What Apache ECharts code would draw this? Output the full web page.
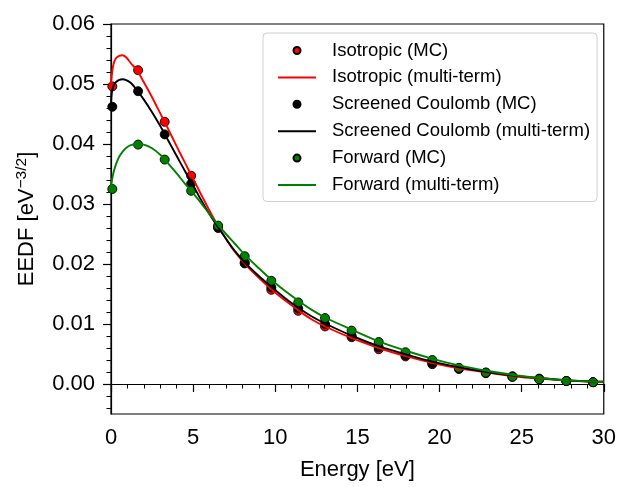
<!DOCTYPE html>
<html>
<head>
<meta charset="utf-8">
<script src="https://cdn.jsdelivr.net/npm/echarts@6/dist/echarts.min.js"></script>
<style>html,body{margin:0;padding:0;background:#fff}#c{width:619px;height:487px}</style>
</head>
<body>
<div id="c"></div>
<script>
// ---- data ----
const seriesNames = ['Isotropic (MC)', 'Isotropic (multi-term)', 'Screened Coulomb (MC)', 'Screened Coulomb (multi-term)', 'Forward (MC)', 'Forward (multi-term)'];
const mcX = [0.08, 1.65, 3.27, 4.88, 6.52, 8.14, 9.76, 11.4, 13.03, 14.65, 16.3, 17.93, 19.56, 21.18, 22.82, 24.44, 26.07, 27.72, 29.35];
const isoMC = [0.0496, 0.0523, 0.0437, 0.0347, 0.0262, 0.0201, 0.0157, 0.0122, 0.0096, 0.0078, 0.0058, 0.0046, 0.0033, 0.0025, 0.0018, 0.0012, 0.0008, 0.0005, 0.0003];
const scMC = [0.0462, 0.0488, 0.0416, 0.0334, 0.0260, 0.0202, 0.0161, 0.0126, 0.0100, 0.0080, 0.0061, 0.0048, 0.0035, 0.0026, 0.0019, 0.0013, 0.0009, 0.0005, 0.0003];
const fwdMC = [0.0325, 0.0399, 0.0374, 0.0322, 0.0264, 0.0213, 0.0172, 0.0136, 0.0110, 0.0089, 0.0070, 0.0053, 0.0040, 0.0027, 0.0019, 0.0012, 0.0008, 0.0005, 0.0003];
const lineX = [0, 0.05, 0.15, 0.3, 0.5, 0.7, 0.9, 1.2, 1.6, 2.0, 2.5, 3.0, 3.5, 4.0, 4.5, 5.0, 5.5, 6.0, 6.5, 7.0, 7.5, 8.2, 9.0, 9.8, 10.6, 11.4, 12.2, 13.1, 14.7, 16.3, 18.0, 19.6, 21.2, 22.9, 24.5, 26.1, 27.8, 29.4, 30];
const isoLine = [0.0495, 0.0515, 0.0533, 0.0543, 0.0547, 0.0548, 0.0545, 0.0535, 0.0522, 0.0503, 0.0478, 0.0451, 0.0424, 0.0396, 0.0369, 0.0342, 0.0315, 0.0289, 0.0264, 0.0242, 0.0222, 0.0199, 0.0177, 0.0157, 0.0139, 0.0123, 0.0108, 0.0095, 0.0076, 0.0060, 0.0046, 0.0035, 0.0026, 0.0019, 0.0013, 0.0009, 0.0006, 0.0004, 0.0004];
const scLine = [0.0462, 0.0485, 0.0497, 0.0503, 0.0507, 0.0508, 0.0507, 0.0502, 0.0489, 0.0474, 0.0453, 0.0430, 0.0405, 0.0380, 0.0355, 0.0331, 0.0306, 0.0283, 0.0262, 0.0242, 0.0223, 0.0201, 0.0180, 0.0161, 0.0143, 0.0127, 0.0113, 0.0100, 0.0080, 0.0063, 0.0049, 0.0037, 0.0028, 0.0020, 0.0014, 0.0010, 0.0006, 0.0004, 0.0004];
const fwdLine = [0.0325, 0.0338, 0.0352, 0.0366, 0.0379, 0.0387, 0.0393, 0.0398, 0.0400, 0.0399, 0.0393, 0.0382, 0.0367, 0.0351, 0.0334, 0.0318, 0.0301, 0.0283, 0.0266, 0.0250, 0.0235, 0.0214, 0.0193, 0.0173, 0.0155, 0.0139, 0.0124, 0.0110, 0.0090, 0.0071, 0.0055, 0.0042, 0.0031, 0.0022, 0.0015, 0.0010, 0.0006, 0.0004, 0.0003];
const yMajorTicks = [0, 0.01, 0.02, 0.03, 0.04, 0.05, 0.06];
const yMinorTicks = [-0.004, -0.002, 0.002, 0.004, 0.006, 0.008, 0.012, 0.014, 0.016, 0.018, 0.022, 0.024, 0.026, 0.028, 0.032, 0.034, 0.036, 0.038, 0.042, 0.044, 0.046, 0.048, 0.052, 0.054, 0.056, 0.058];
const colors = ['#ff0000', '#000000', '#008000'];

const FONT = 'Liberation Sans, Arial, sans-serif';
const FS = 22;      // axis / tick text
const LFS = 18.5;   // legend text
const zip = (xs, ys) => xs.map((x, i) => [x, ys[i]]);

function mcSeries(name, data, color) {
  return {
    name, type: 'scatter', data: zip(mcX, data), xAxisIndex: 0, yAxisIndex: 0,
    symbol: 'circle', symbolSize: 9,
    itemStyle: { color, borderColor: '#000', borderWidth: 0.9, opacity: 1 },
    clip: false
  };
}
function lineSeries(name, data, color) {
  return {
    name, type: 'line', data: zip(lineX, data), xAxisIndex: 0, yAxisIndex: 0,
    symbol: 'none', showSymbol: false, smooth: 0.35,
    lineStyle: { color, width: 1.9 }, itemStyle: { color }
  };
}

const legendData = seriesNames.map((n, i) => (i % 2 === 1 ? { name: n, itemStyle: { opacity: 0 } } : { name: n }));

const chart = echarts.init(document.getElementById('c'), null, { renderer: 'canvas' });
chart.setOption({
  animation: false,
  backgroundColor: '#fff',
  textStyle: { fontFamily: FONT },
  grid: { left: 111, right: 13, top: 24, bottom: 73, show: true, borderColor: '#000', borderWidth: 1.2, backgroundColor: 'transparent' },
  legend: {
    orient: 'vertical', left: 263, top: 33,
    data: legendData,
    itemWidth: 38, itemHeight: 7, itemGap: 7.9,
    padding: [8, 7, 7, 14],
    backgroundColor: 'rgba(255,255,255,0.8)', borderColor: '#d0d0d0', borderWidth: 1, borderRadius: 4,
    textStyle: { fontFamily: FONT, fontSize: LFS, color: '#000', padding: [0, 0, 0, 11], lineHeight: 18 }
  },
  xAxis: [{
    type: 'value', min: 0, max: 30, interval: 5,
    name: 'Energy [eV]', nameLocation: 'middle', nameGap: 45,
    nameTextStyle: { fontFamily: FONT, fontSize: FS, color: '#000' },
    axisLine: { show: true, lineStyle: { color: '#000', width: 1.2 } },
    axisTick: { show: true, inside: false, length: 8, lineStyle: { color: '#000', width: 1.2 } },
    minorTick: { show: true, splitNumber: 5, length: 4.5, lineStyle: { color: '#000', width: 1 } },
    axisLabel: { fontFamily: FONT, fontSize: FS, color: '#000', margin: 13 },
    splitLine: { show: false }, minorSplitLine: { show: false }
  }],
  yAxis: [{
    type: 'value', min: -0.005, max: 0.06,
    name: '{a|EEDF [eV}{s|−3/2}{a|]}', nameLocation: 'middle', nameGap: 72, nameRotate: 90,
    nameTextStyle: { fontFamily: FONT, fontSize: FS, color: '#000',
      rich: { a: { fontFamily: FONT, fontSize: FS, color: '#000' }, s: { fontFamily: FONT, fontSize: 15.5, color: '#000', verticalAlign: 'top', padding: [0, 0, 9, 0] } } },
    axisLine: { show: true, lineStyle: { color: '#000', width: 1.2 } },
    axisTick: { show: true, inside: false, length: 8, customValues: yMajorTicks, lineStyle: { color: '#000', width: 1.2 } },
    axisLabel: { fontFamily: FONT, fontSize: FS, color: '#000', margin: 16, customValues: yMajorTicks, formatter: v => v.toFixed(2) },
    splitLine: { show: false }
  }, {
    type: 'value', min: -0.005, max: 0.06, position: 'left',
    axisLine: { show: false },
    axisTick: { show: true, inside: false, length: 4.5, customValues: yMinorTicks, lineStyle: { color: '#000', width: 1 } },
    axisLabel: { show: false },
    splitLine: { show: false }
  }],
  series: [
    mcSeries(seriesNames[0], isoMC, colors[0]),
    lineSeries(seriesNames[1], isoLine, colors[0]),
    mcSeries(seriesNames[2], scMC, colors[1]),
    lineSeries(seriesNames[3], scLine, colors[1]),
    mcSeries(seriesNames[4], fwdMC, colors[2]),
    lineSeries(seriesNames[5], fwdLine, colors[2])
  ]
});
</script>
</body>
</html>
